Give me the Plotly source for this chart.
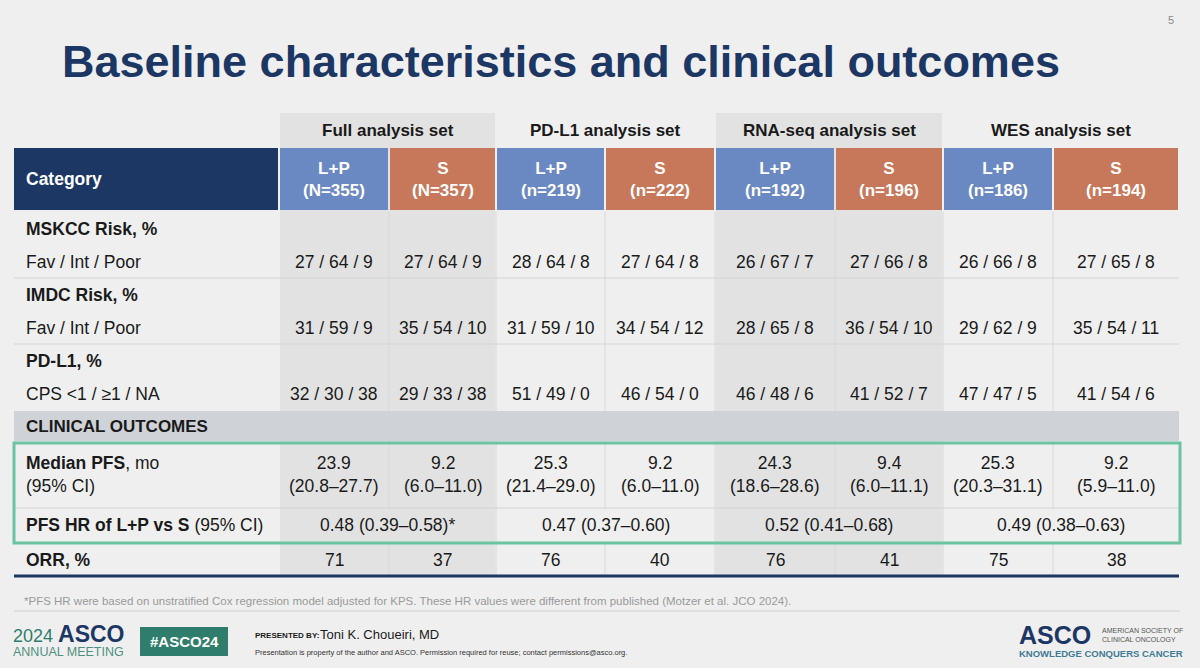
import plotly.graph_objects as go

FONT = 'Liberation Sans, Arial, sans-serif'
NAVY = '#1c3764'
BLUE = '#6a88c1'
ORANGE = '#c7785b'
TEXT = '#1a1a1a'

# column edges (px) : category col, then 8 data columns
edges = [14, 279, 389, 496, 605, 715, 835, 943, 1053, 1179]
groups = ['Full analysis set', 'PD-L1 analysis set', 'RNA-seq analysis set', 'WES analysis set']
arms = [('L+P', 'N=355'), ('S', 'N=357'), ('L+P', 'n=219'), ('S', 'n=222'),
        ('L+P', 'n=192'), ('S', 'n=196'), ('L+P', 'n=186'), ('S', 'n=194')]

rows = {
    'MSKCC Risk, %': ['27 / 64 / 9', '27 / 64 / 9', '28 / 64 / 8', '27 / 64 / 8',
                      '26 / 67 / 7', '27 / 66 / 8', '26 / 66 / 8', '27 / 65 / 8'],
    'IMDC Risk, %': ['31 / 59 / 9', '35 / 54 / 10', '31 / 59 / 10', '34 / 54 / 12',
                     '28 / 65 / 8', '36 / 54 / 10', '29 / 62 / 9', '35 / 54 / 11'],
    'PD-L1, %': ['32 / 30 / 38', '29 / 33 / 38', '51 / 49 / 0', '46 / 54 / 0',
                 '46 / 48 / 6', '41 / 52 / 7', '47 / 47 / 5', '41 / 54 / 6'],
}
sublabels = ['Fav / Int / Poor', 'Fav / Int / Poor', 'CPS <1 / ≥1 / NA']
pfs_median = ['23.9', '9.2', '25.3', '9.2', '24.3', '9.4', '25.3', '9.2']
pfs_ci = ['(20.8–27.7)', '(6.0–11.0)', '(21.4–29.0)', '(6.0–11.0)',
          '(18.6–28.6)', '(6.0–11.1)', '(20.3–31.1)', '(5.9–11.0)']
hr = ['0.48 (0.39–0.58)*', '0.47 (0.37–0.60)', '0.52 (0.41–0.68)', '0.49 (0.38–0.63)']
orr = ['71', '37', '76', '40', '76', '41', '75', '38']

shapes = []
ann = []


def text(x, y, t, size=17, color=TEXT, bold=False, xanchor='center', family=FONT):
    if bold:
        t = '<b>' + t + '</b>'
    ann.append(dict(x=x, y=y, text=t, showarrow=False, xanchor=xanchor, yanchor='middle',
                    align='left' if xanchor == 'left' else 'center',
                    font=dict(size=size, color=color, family=family)))


def rect(x0, y0, x1, y1, fill, line=None, lw=0):
    shapes.append(dict(type='rect', x0=x0, y0=y0, x1=x1, y1=y1, fillcolor=fill, layer='below',
                       line=dict(width=lw, color=line or fill)))


def hline(x0, x1, y, color='#d4d4d4', w=1):
    shapes.append(dict(type='line', x0=x0, x1=x1, y0=y, y1=y, layer='below',
                       line=dict(color=color, width=w)))


def vline(x, y0, y1, color='#d8d8d8', w=1):
    shapes.append(dict(type='line', x0=x, x1=x, y0=y0, y1=y1, layer='below',
                       line=dict(color=color, width=w)))


# background
rect(0, 0, 1200, 668, '#efefef')

# shaded groups (full + RNA-seq)
for g in [0, 2]:
    rect(edges[1 + 2 * g] + 1, 113, edges[3 + 2 * g] - 1, 576, '#e2e2e2')

# title
text(60, 61, 'Baseline characteristics and clinical outcomes', size=45, color=NAVY, bold=True, xanchor='left')
text(1171, 20, '5', size=11, color='#888888')

# group headers
for g, name in enumerate(groups):
    text((edges[1 + 2 * g] + edges[3 + 2 * g]) / 2, 130, name, size=17, bold=True)

# header row
rect(edges[0], 148, edges[1] - 1, 210, NAVY)
text(24, 179, 'Category', size=17.5, color='white', bold=True, xanchor='left')
for i, (a, n) in enumerate(arms):
    rect(edges[1 + i] + 1, 148, edges[2 + i] - 1, 210, BLUE if a == 'L+P' else ORANGE)
    text((edges[1 + i] + edges[2 + i]) / 2, 179, a + '<br>(' + n + ')', size=17, color='white', bold=True)

# vertical separators in body
for x in edges[2:-1]:
    vline(x, 212, 576)

# risk rows
y0 = 212
for k, (label, vals) in enumerate(rows.items()):
    top = y0 + k * 66
    text(24, top + 17, label, size=17.5, bold=True, xanchor='left')
    text(24, top + 50, sublabels[k], size=17.5, xanchor='left')
    for i, v in enumerate(vals):
        text((edges[1 + i] + edges[2 + i]) / 2, top + 50, v, size=17.5)
    if k < 2:
        hline(edges[0], edges[-1], top + 66)

# clinical outcomes bar
rect(edges[0], 411, edges[-1], 441, '#cfd3d8')
text(24, 426, 'CLINICAL OUTCOMES', size=17, bold=True, xanchor='left')

# median PFS
text(24, 474, '<b>Median PFS</b>, mo<br>(95% CI)', size=17.5, xanchor='left')
for i in range(8):
    text((edges[1 + i] + edges[2 + i]) / 2, 474, pfs_median[i] + '<br>' + pfs_ci[i], size=17.5)
hline(edges[0], edges[-1], 508)

# HR row (merged cells) - cover inner separators
for g in range(4):
    xa, xb = edges[1 + 2 * g], edges[3 + 2 * g]
    rect(edges[2 + 2 * g] - 1, 509, edges[2 + 2 * g] + 1, 542, '#e2e2e2' if g in (0, 2) else '#efefef')
    text((xa + xb) / 2, 525, hr[g], size=17.5)
text(24, 525, '<b>PFS HR of L+P vs S</b> (95% CI)', size=17.5, xanchor='left')
hline(edges[0], edges[-1], 543)

# ORR
text(24, 560, 'ORR, %', size=17.5, bold=True, xanchor='left')
for i, v in enumerate(orr):
    text((edges[1 + i] + edges[2 + i]) / 2, 560, v, size=17.5)
hline(edges[0], edges[-1], 576, color=NAVY, w=3)

# green highlight box
shapes.append(dict(type='rect', x0=14, x1=1180, y0=443, y1=543, layer='above',
                   line=dict(color='#6cc3a1', width=3)))

# footnote
text(22, 601, '*PFS HR were based on unstratified Cox regression model adjusted for KPS. '
     'These HR values were different from published (Motzer et al. JCO 2024).',
     size=11.5, color='#9a9a9a', xanchor='left')
hline(14, 1180, 611, color='#d0d0d0')

# footer left
text(11, 634, '<span style="font-size:18px;color:#2f7d6b">2024 </span><b>ASCO</b>', size=23,
     color=NAVY, xanchor='left')
text(11, 652, 'ANNUAL MEETING', size=12.5, color='#4f8f80', xanchor='left')
rect(140, 627, 228, 656, '#2f7d6b')
text(184, 641, '#ASCO24', size=15, color='white', bold=True)
text(253, 635, 'PRESENTED BY:', size=8, color=TEXT, bold=True, xanchor='left')
text(318, 634, 'Toni K. Choueiri, MD', size=13, color=TEXT, xanchor='left')
text(253, 652, 'Presentation is property of the author and ASCO. Permission required for reuse; '
     'contact permissions@asco.org.', size=7.5, color='#333333', xanchor='left')

# footer right
text(1017, 635, '<b>ASCO</b>', size=25, color=NAVY, xanchor='left')
text(1100, 635, 'AMERICAN SOCIETY OF<br>CLINICAL ONCOLOGY', size=7, color='#555555', xanchor='left')
text(1017, 653, '<b>KNOWLEDGE CONQUERS CANCER</b>', size=9.5, color='#3e7b94', xanchor='left')

fig = go.Figure()
fig.update_layout(
    width=1200, height=668, margin=dict(l=0, r=0, t=0, b=0),
    paper_bgcolor='#efefef', plot_bgcolor='#efefef',
    xaxis=dict(range=[0, 1200], visible=False, fixedrange=True),
    yaxis=dict(range=[668, 0], visible=False, fixedrange=True),
    shapes=shapes, annotations=ann, showlegend=False,
)

fig.write_html("out.html", config={'displayModeBar': False},
               post_script="document.body.style.margin='0';document.body.style.overflow='hidden';")
